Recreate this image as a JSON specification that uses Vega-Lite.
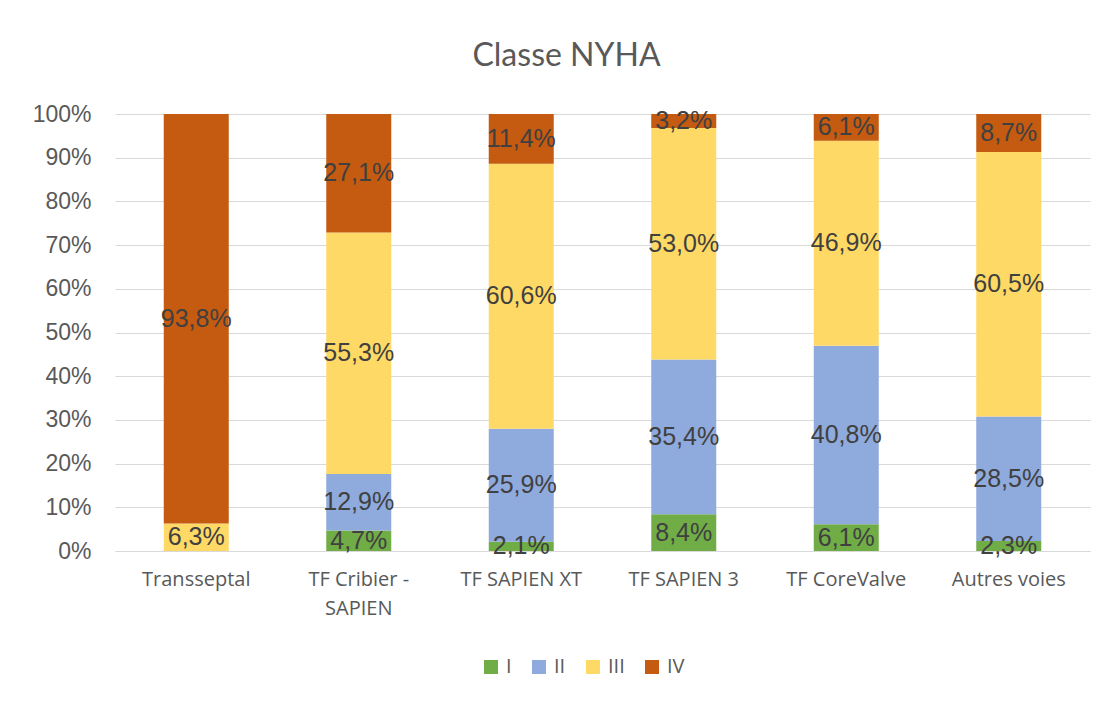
{
  "$schema": "https://vega.github.io/schema/vega-lite/v6.json",
  "width": 975,
  "height": 437,
  "autosize": {"type": "none"},
  "padding": {"left": 115, "top": 114, "right": 24, "bottom": 154},
  "background": "white",
  "title": {
    "text": "Classe NYHA",
    "font": "Lato",
    "fontSize": 32,
    "fontWeight": "normal",
    "color": "#595959",
    "anchor": "middle",
    "dx": -36,
    "offset": 30
  },
  "data": {
    "values": [
      {"cat": "Transseptal", "cls": "III", "v": 0.063},
      {"cat": "Transseptal", "cls": "IV", "v": 0.938},
      {"cat": "TF Cribier - SAPIEN", "cls": "I", "v": 0.047},
      {"cat": "TF Cribier - SAPIEN", "cls": "II", "v": 0.129},
      {"cat": "TF Cribier - SAPIEN", "cls": "III", "v": 0.553},
      {"cat": "TF Cribier - SAPIEN", "cls": "IV", "v": 0.271},
      {"cat": "TF SAPIEN XT", "cls": "I", "v": 0.021},
      {"cat": "TF SAPIEN XT", "cls": "II", "v": 0.259},
      {"cat": "TF SAPIEN XT", "cls": "III", "v": 0.606},
      {"cat": "TF SAPIEN XT", "cls": "IV", "v": 0.114},
      {"cat": "TF SAPIEN 3", "cls": "I", "v": 0.084},
      {"cat": "TF SAPIEN 3", "cls": "II", "v": 0.354},
      {"cat": "TF SAPIEN 3", "cls": "III", "v": 0.530},
      {"cat": "TF SAPIEN 3", "cls": "IV", "v": 0.032},
      {"cat": "TF CoreValve", "cls": "I", "v": 0.061},
      {"cat": "TF CoreValve", "cls": "II", "v": 0.408},
      {"cat": "TF CoreValve", "cls": "III", "v": 0.469},
      {"cat": "TF CoreValve", "cls": "IV", "v": 0.061},
      {"cat": "Autres voies", "cls": "I", "v": 0.023},
      {"cat": "Autres voies", "cls": "II", "v": 0.285},
      {"cat": "Autres voies", "cls": "III", "v": 0.605},
      {"cat": "Autres voies", "cls": "IV", "v": 0.087}
    ]
  },
  "transform": [
    {"stack": "v", "groupby": ["cat"], "sort": [{"field": "cls", "order": "ascending"}], "offset": "normalize", "as": ["y0", "y1"]},
    {"calculate": "(datum.y0 + datum.y1) / 2", "as": "ymid"}
  ],
  "encoding": {
    "x": {
      "field": "cat",
      "type": "nominal",
      "sort": ["Transseptal", "TF Cribier - SAPIEN", "TF SAPIEN XT", "TF SAPIEN 3", "TF CoreValve", "Autres voies"],
      "scale": {"paddingInner": 0.6, "paddingOuter": 0.3},
      "axis": {
        "title": null,
        "labelAngle": 0,
        "labelFont": "Open Sans",
        "labelFontSize": 20,
        "labelColor": "#595959",
        "labelPadding": 18,
        "ticks": false,
        "domainColor": "#d9d9d9",
        "labelExpr": "datum.label == 'TF Cribier - SAPIEN' ? ['TF Cribier -', 'SAPIEN'] : datum.label",
        "labelLineHeight": 29
      }
    }
  },
  "layer": [
    {
      "mark": {"type": "bar"},
      "encoding": {
        "y": {
          "field": "y0",
          "type": "quantitative",
          "scale": {"domain": [0, 1]},
          "axis": {
            "title": null,
            "format": ".0%",
            "values": [0, 0.1, 0.2, 0.3, 0.4, 0.5, 0.6, 0.7, 0.8, 0.9, 1],
            "labelOverlap": false,
            "labelFont": "Liberation Sans",
            "labelFontSize": 23,
            "labelColor": "#595959",
            "labelPadding": 24,
            "ticks": false,
            "domain": false,
            "gridColor": "#d9d9d9",
            "gridWidth": 1
          }
        },
        "y2": {"field": "y1"},
        "color": {
          "field": "cls",
          "type": "nominal",
          "scale": {"domain": ["I", "II", "III", "IV"], "range": ["#70AD47", "#8FAADC", "#FFD966", "#C55A11"]},
          "legend": {
            "title": null,
            "orient": "none",
            "direction": "horizontal",
            "legendX": 366,
            "legendY": 543,
            "symbolType": "square",
            "symbolSize": 196,
            "symbolStrokeWidth": 0,
            "symbolOpacity": 1,
            "labelFont": "Open Sans",
            "labelFontSize": 20,
            "labelColor": "#595959",
            "labelOffset": 5,
            "columnPadding": 17
          }
        }
      }
    },
    {
      "mark": {"type": "text", "font": "Liberation Sans", "fontSize": 25, "color": "#404040", "baseline": "middle"},
      "encoding": {
        "y": {
          "field": "ymid",
          "type": "quantitative",
          "axis": {
            "title": null,
            "format": ".0%",
            "values": [0, 0.1, 0.2, 0.3, 0.4, 0.5, 0.6, 0.7, 0.8, 0.9, 1],
            "labelOverlap": false,
            "labelFont": "Liberation Sans",
            "labelFontSize": 23,
            "labelColor": "#595959",
            "labelPadding": 24,
            "ticks": false,
            "domain": false,
            "gridColor": "#d9d9d9",
            "gridWidth": 1
          }
        },
        "text": {"field": "v", "type": "quantitative", "format": ".1%"}
      }
    }
  ],
  "config": {
    "view": {"stroke": null},
    "locale": {"number": {"decimal": ",", "thousands": " ", "grouping": [3], "currency": ["", " €"]}}
  }
}
